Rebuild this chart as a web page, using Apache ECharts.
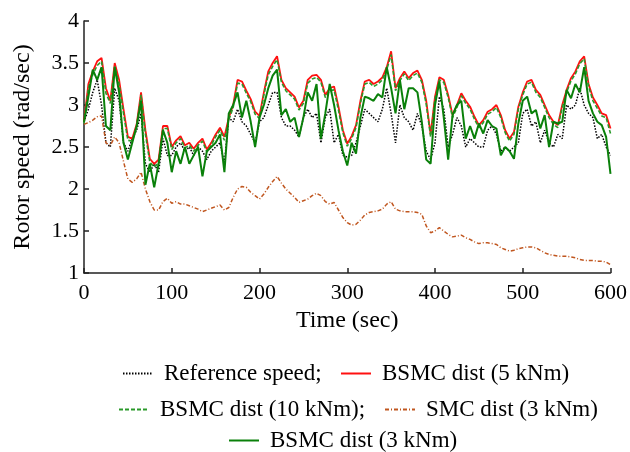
<!DOCTYPE html>
<html><head><meta charset="utf-8">
<script src="https://cdn.jsdelivr.net/npm/echarts@6/dist/echarts.min.js"></script>
<style>html,body{margin:0;padding:0;background:#fff}#c{width:630px;height:452px}</style>
</head><body><div id="c"></div>
<script>
var times = [0,5,10,15,20,25,30,35,40,45,50,55,60,65,70,75,80,85,90,95,100,105,110,115,120,125,130,135,140,145,150,155,160,165,170,175,180,185,190,195,200,205,210,215,220,225,230,235,240,245,250,255,260,265,270,275,280,285,290,295,300,305,310,315,320,325,330,335,340,345,350,355,360,365,370,375,380,385,390,395,400,405,410,415,420,425,430,435,440,445,450,455,460,465,470,475,480,485,490,495,500,505,510,515,520,525,530,535,540,545,550,555,560,565,570,575,580,585,590,595,600];
var xTicks = [0,100,200,300,400,500,600];
var yTicks = [1,1.5,2,2.5,3,3.5,4];
var seriesNames = ['Reference speed;','BSMC dist (5 kNm)','BSMC dist (10 kNm);','SMC dist (3 kNm)','BSMC dist (3 kNm)'];
var refSpeed = [2.80,2.95,3.15,3.30,3.00,2.55,2.50,3.20,3.05,2.55,
2.45,2.60,2.70,2.90,2.30,2.20,2.30,2.20,2.60,2.40,
2.40,2.50,2.55,2.45,2.50,2.40,2.50,2.45,2.35,2.45,
2.50,2.55,2.30,2.85,2.80,2.95,2.80,2.75,2.65,2.55,
2.80,2.85,3.00,3.15,3.15,2.85,2.75,2.75,2.70,2.62,
2.85,2.95,2.85,2.90,2.55,2.85,2.95,2.55,2.65,2.40,
2.38,2.40,2.55,2.75,2.95,2.90,2.85,2.80,2.95,3.20,
2.90,2.55,3.00,2.85,2.80,2.70,2.90,2.75,2.45,2.35,
2.55,3.10,2.95,2.50,2.65,2.85,2.75,2.50,2.60,2.55,
2.50,2.50,2.70,2.75,2.65,2.45,2.50,2.45,2.50,2.55,
2.90,2.95,2.75,2.80,2.55,2.70,2.55,2.50,2.65,2.60,
3.00,2.95,3.00,3.20,3.00,2.90,2.85,2.60,2.65,2.50,
2.40];
var bsmc5 = [2.80,3.25,3.40,3.52,3.56,3.20,3.05,3.50,3.30,2.95,
2.62,2.60,2.77,3.15,2.70,2.36,2.30,2.35,2.75,2.75,
2.50,2.58,2.63,2.52,2.55,2.48,2.55,2.60,2.47,2.55,
2.65,2.73,2.62,2.85,3.00,3.30,3.28,3.17,3.07,2.92,
2.87,3.15,3.40,3.50,3.58,3.30,3.20,3.15,3.10,2.97,
3.05,3.30,3.35,3.36,3.30,3.12,3.20,3.22,2.98,2.70,
2.54,2.63,2.76,3.05,3.28,3.30,3.25,3.28,3.33,3.45,
3.64,3.20,3.32,3.40,3.32,3.38,3.41,3.30,3.05,2.65,
3.10,3.33,3.30,3.12,2.88,3.00,3.14,3.05,2.98,2.86,
2.76,2.82,2.92,2.95,3.00,2.88,2.70,2.60,2.68,2.98,
3.15,3.28,3.30,3.18,3.12,3.00,2.88,2.80,2.76,3.00,
3.18,3.32,3.40,3.52,3.58,3.25,3.09,3.00,2.90,2.88,
2.72];
var bsmc10 = [2.78,3.20,3.36,3.47,3.52,3.14,3.02,3.46,3.25,2.90,
2.58,2.57,2.74,3.12,2.65,2.32,2.26,2.31,2.72,2.72,
2.47,2.55,2.60,2.49,2.52,2.45,2.52,2.57,2.44,2.52,
2.62,2.70,2.58,2.82,2.97,3.26,3.25,3.14,3.04,2.89,
2.84,3.12,3.36,3.46,3.54,3.27,3.17,3.12,3.07,2.94,
3.02,3.26,3.31,3.33,3.27,3.09,3.17,3.18,2.94,2.67,
2.51,2.60,2.73,3.02,3.25,3.27,3.22,3.25,3.30,3.42,
3.60,3.17,3.29,3.37,3.29,3.35,3.38,3.27,3.01,2.62,
3.07,3.30,3.27,3.09,2.85,2.97,3.11,3.02,2.95,2.83,
2.73,2.79,2.89,2.92,2.97,2.85,2.67,2.57,2.65,2.95,
3.12,3.25,3.27,3.15,3.09,2.97,2.85,2.77,2.73,2.97,
3.15,3.29,3.37,3.49,3.55,3.22,3.05,2.96,2.87,2.85,
2.66];
var smc3 = [2.77,2.79,2.82,2.86,2.87,2.55,2.52,2.62,2.55,2.33,
2.12,2.08,2.12,2.20,2.00,1.85,1.75,1.75,1.85,1.89,
1.83,1.85,1.82,1.82,1.80,1.78,1.76,1.73,1.75,1.77,
1.79,1.81,1.75,1.78,1.90,2.00,2.03,2.02,1.96,1.92,
1.88,1.94,2.02,2.09,2.15,2.07,2.00,1.95,1.90,1.84,
1.86,1.88,1.92,1.95,1.92,1.85,1.82,1.84,1.75,1.66,
1.60,1.57,1.58,1.63,1.69,1.72,1.73,1.74,1.76,1.82,
1.85,1.76,1.74,1.73,1.73,1.73,1.72,1.70,1.56,1.48,
1.50,1.54,1.50,1.46,1.43,1.44,1.45,1.42,1.40,1.37,
1.35,1.36,1.36,1.35,1.34,1.30,1.28,1.26,1.27,1.29,
1.30,1.31,1.31,1.30,1.27,1.24,1.22,1.21,1.20,1.20,
1.20,1.19,1.18,1.16,1.15,1.15,1.15,1.14,1.14,1.13,
1.10];
var bsmc3 = [2.80,3.10,3.42,3.30,3.45,2.75,2.70,3.45,3.15,2.55,
2.35,2.55,2.75,3.05,2.05,2.30,2.02,2.30,2.70,2.55,
2.20,2.45,2.30,2.50,2.30,2.40,2.50,2.15,2.45,2.50,
2.55,2.65,2.20,2.90,3.00,3.15,2.85,3.05,2.80,2.50,
2.85,3.00,3.20,3.35,3.42,2.88,2.95,2.80,2.85,2.62,
2.85,3.15,3.05,3.25,2.60,2.90,3.25,3.00,2.70,2.45,
2.28,2.55,2.42,2.85,3.10,3.08,3.05,3.13,3.09,3.45,
3.20,2.90,3.30,2.95,3.20,3.20,3.15,2.80,2.35,2.30,
3.00,3.28,2.85,2.35,2.88,3.00,3.05,2.60,2.75,2.60,
2.78,2.66,2.82,2.75,2.72,2.40,2.50,2.45,2.36,2.78,
3.05,3.10,2.90,2.94,2.72,2.88,2.50,2.80,2.78,2.80,
3.18,3.08,3.25,3.15,3.45,3.05,2.90,2.80,2.76,2.62,
2.18];

function pairs(v){ return times.map(function(t,i){ return [t, v[i]]; }); }
var FONT = 'Liberation Serif';
var chart = echarts.init(document.getElementById('c'), null, {renderer:'canvas'});
function lg(name, left, top){
  return {data:[name], left:left, top:top, orient:'horizontal', itemWidth:30, itemHeight:12, itemGap:0,
    itemStyle:{color:'rgba(0,0,0,0)', borderColor:'rgba(0,0,0,0)', borderWidth:0, opacity:0},
    textStyle:{fontFamily:FONT, fontSize:23, color:'#000', padding:[0,0,0,6]}, selectedMode:false};
}
chart.setOption({
  backgroundColor:'#fff',
  animation:false,
  grid:{left:84, right:19, top:21, bottom:179},
  xAxis:{type:'value', min:0, max:600, interval:100,
    name:'Time (sec)', nameLocation:'middle', nameGap:35,
    nameTextStyle:{fontFamily:FONT, fontSize:24, color:'#000'},
    axisLine:{show:true, lineStyle:{color:'#222', width:1.5}},
    axisTick:{show:true, inside:true, length:5, lineStyle:{color:'#222', width:1.5}},
    axisLabel:{fontFamily:FONT, fontSize:22, color:'#000', margin:9,
      formatter:function(v){ return xTicks.indexOf(v)>=0 ? String(v) : ''; }},
    splitLine:{show:false}},
  yAxis:{type:'value', min:1, max:4, interval:0.5,
    name:'Rotor speed (rad/sec)', nameLocation:'middle', nameGap:49, nameRotate:90,
    nameTextStyle:{fontFamily:FONT, fontSize:24, color:'#000'},
    axisLine:{show:true, lineStyle:{color:'#222', width:1.5}},
    axisTick:{show:true, inside:true, length:5, lineStyle:{color:'#222', width:1.5}},
    axisLabel:{fontFamily:FONT, fontSize:22, color:'#000', margin:5,
      formatter:function(v){ return yTicks.indexOf(v)>=0 ? String(v) : ''; }},
    splitLine:{show:false}},
  legend:[
    lg(seriesNames[0], 117, 357),
    lg(seriesNames[1], 335, 357),
    lg(seriesNames[2], 113, 393),
    lg(seriesNames[3], 379, 393),
    lg(seriesNames[4], 223, 424)
  ],
  series:[
    {name:seriesNames[0], type:'line', data:pairs(refSpeed), symbol:'none', z:1,
      lineStyle:{color:'#000', width:1.5, type:[1.5,1.5]}, itemStyle:{color:'#000'}},
    {name:seriesNames[3], type:'line', data:pairs(smc3), symbol:'none', z:2,
      lineStyle:{color:'#c0561f', width:1.5, type:[4,2,1,2]}, itemStyle:{color:'#c0561f'}},
    {name:seriesNames[1], type:'line', data:pairs(bsmc5), symbol:'none', z:3,
      lineStyle:{color:'#ff1010', width:1.8}, itemStyle:{color:'#ff1010'}},
    {name:seriesNames[2], type:'line', data:pairs(bsmc10), symbol:'none', z:4,
      lineStyle:{color:'#2a9a2a', width:1.6, type:[4,2]}, itemStyle:{color:'#2a9a2a'}},
    {name:seriesNames[4], type:'line', data:pairs(bsmc3), symbol:'none', z:5,
      lineStyle:{color:'#0a800a', width:2}, itemStyle:{color:'#0a800a'}}
  ]
});
</script></body></html>
